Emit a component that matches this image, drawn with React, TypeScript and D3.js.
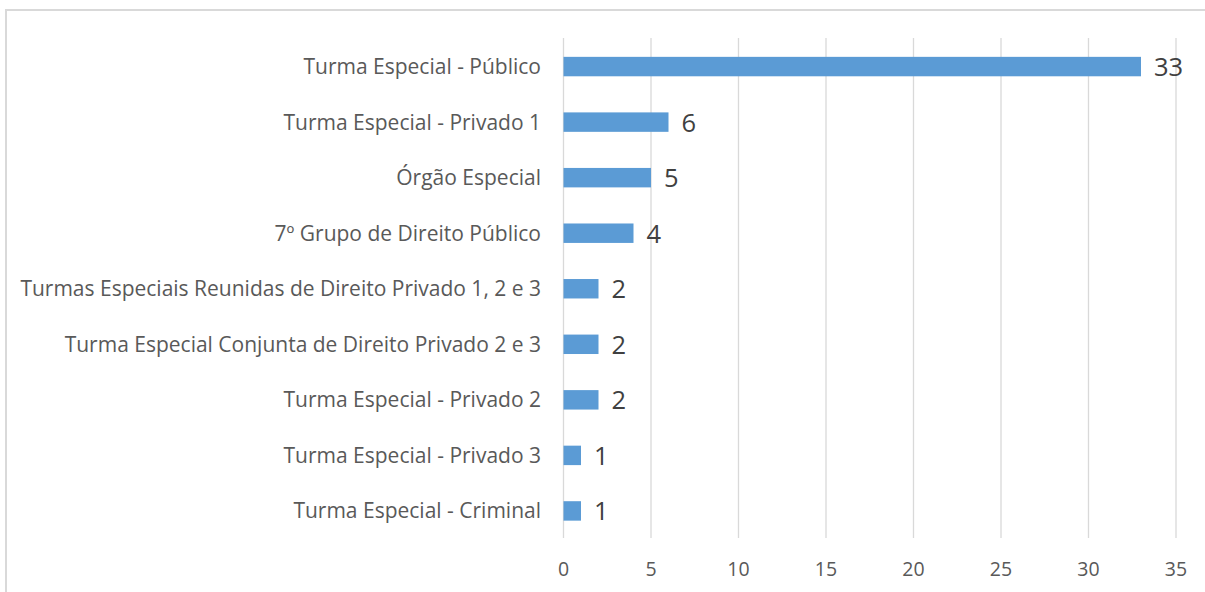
import React, { useEffect, useRef } from "react";
import * as d3 from "d3";

const categories = [
  "Turma Especial - Público",
  "Turma Especial - Privado 1",
  "Órgão Especial",
  "7º Grupo de Direito Público",
  "Turmas Especiais Reunidas de Direito Privado 1, 2 e 3",
  "Turma Especial Conjunta de Direito Privado 2 e 3",
  "Turma Especial - Privado 2",
  "Turma Especial - Privado 3",
  "Turma Especial - Criminal",
];
const values = [33, 6, 5, 4, 2, 2, 2, 1, 1];
const xTicks = [0, 5, 10, 15, 20, 25, 30, 35];

const W = 1205;
const H = 592;
const FONT = "'Open Sans', sans-serif";

export default function App() {
  const ref = useRef<SVGSVGElement>(null);
  useEffect(() => {
    const svg = d3.select(ref.current);
    svg.selectAll("*").remove();
    const x = d3.scaleLinear().domain([0, 35]).range([563.5, 1176]);
    const y = d3.scaleBand().domain(categories).range([38.8, 538.7]).paddingInner(0.65).paddingOuter(0.325);

    svg.append("rect").attr("x", 0).attr("y", 0).attr("width", W).attr("height", H).attr("fill", "#fff");
    svg.append("path").attr("d", `M6,${H} V10 H${W}`).attr("fill", "none").attr("stroke", "#D9D9D9").attr("stroke-width", 2);

    svg.append("g").selectAll("line").data(xTicks).join("line")
      .attr("x1", d => x(d)).attr("x2", d => x(d))
      .attr("y1", 38).attr("y2", 538)
      .attr("stroke", "#D9D9D9").attr("stroke-width", 1.3);

    svg.append("g").selectAll("text").data(xTicks).join("text")
      .attr("x", d => x(d)).attr("y", 576)
      .attr("text-anchor", "middle")
      .attr("font-family", FONT).attr("font-size", 19.5).attr("fill", "#595959")
      .text(d => d);

    svg.append("g").selectAll("rect").data(values).join("rect")
      .attr("x", x(0)).attr("y", (_, i) => y(categories[i])!)
      .attr("width", d => x(d) - x(0)).attr("height", y.bandwidth())
      .attr("fill", "#5B9BD5");

    svg.append("g").selectAll("text").data(values).join("text")
      .attr("x", d => x(d) + 13).attr("y", (_, i) => y(categories[i])! + y.bandwidth() / 2 + 9.5)
      .attr("font-family", FONT).attr("font-size", 25.5).attr("fill", "#404040")
      .text(d => d);

    svg.append("g").selectAll("text").data(categories).join("text")
      .attr("x", 541).attr("y", d => y(d)! + y.bandwidth() / 2 + 7.5)
      .attr("text-anchor", "end")
      .attr("font-family", FONT).attr("font-size", 21).attr("fill", "#595959")
      .text(d => d);
  }, []);
  return (
    <div style={{ position: "absolute", left: 0, top: 0 }}>
      <svg ref={ref} width={W} height={H} style={{ display: "block" }} />
    </div>
  );
}
